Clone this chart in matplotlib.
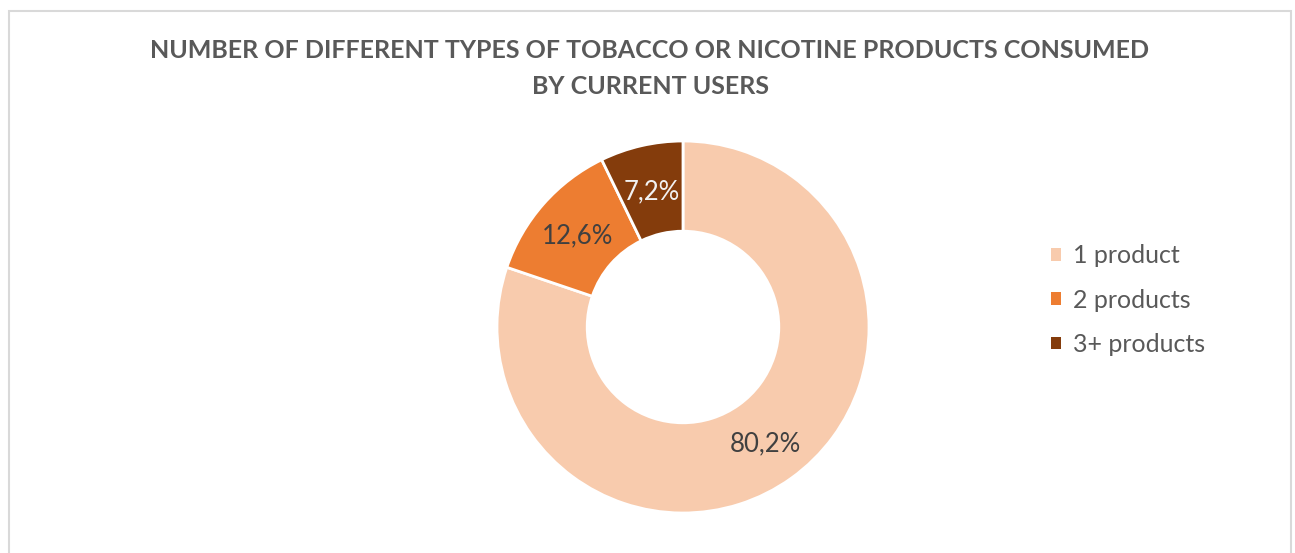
import matplotlib
matplotlib.use("Agg")
import numpy as np
import matplotlib.pyplot as plt
from matplotlib.patches import Patch, Rectangle

# data
categories = ["1 product", "2 products", "3+ products"]
shares = [80.2, 12.6, 7.2]
labels = ["80,2%", "12,6%", "7,2%"]
colors = ["#F8CBAD", "#ED7D31", "#843C0C"]
label_colors = ["#404040", "#404040", "#F2F2F2"]

plt.rcParams["font.family"] = ["Lato", "DejaVu Sans"]

W, H = 1295, 553
fig = plt.figure(figsize=(W / 100, H / 100), dpi=100)

# chart frame (bottom edge runs off the image)
fig.add_artist(Rectangle((9 / W, -0.05), (1291 - 9) / W, 1.05 - 10.5 / H,
                         transform=fig.transFigure, fill=False,
                         edgecolor="#D9D9D9", linewidth=1.5))

title_kw = dict(ha="center", va="center", fontsize=18, fontweight="bold", color="#595959")
fig.text(650 / W, 1 - 51 / H,
         "NUMBER OF DIFFERENT TYPES OF TOBACCO OR NICOTINE PRODUCTS CONSUMED", **title_kw)
fig.text(650 / W, 1 - 87 / H, "BY CURRENT USERS", **title_kw)

# donut
cx, cy, R = 683, 327, 186
hole = 0.485
ax = fig.add_axes([(cx - R) / W, (H - cy - R) / H, 2 * R / W, 2 * R / H])
wedges, _ = ax.pie(shares, colors=colors, startangle=90, counterclock=False,
                   radius=1.0, wedgeprops=dict(width=hole, edgecolor="white", linewidth=2))
ax.set_xlim(-1, 1)
ax.set_ylim(-1, 1)
ax.set_aspect("equal")
ax.axis("off")

r_mid = 1 - hole / 2
for w, lab, lc in zip(wedges, labels, label_colors):
    ang = np.deg2rad((w.theta1 + w.theta2) / 2)
    ax.text(r_mid * np.cos(ang), r_mid * np.sin(ang) - 0.01, lab, ha="center", va="center",
            fontsize=18.5, color=lc)

handles = [Patch(facecolor=c, edgecolor="none") for c in colors]
fig.legend(handles, categories, loc="center left", bbox_to_anchor=(1028 / W, 1 - 300 / H),
           frameon=False, fontsize=18, labelcolor="#595959", handlelength=0.4,
           handleheight=0.4, handletextpad=0.5, labelspacing=0.85)

fig.savefig("out.png", dpi=100)
